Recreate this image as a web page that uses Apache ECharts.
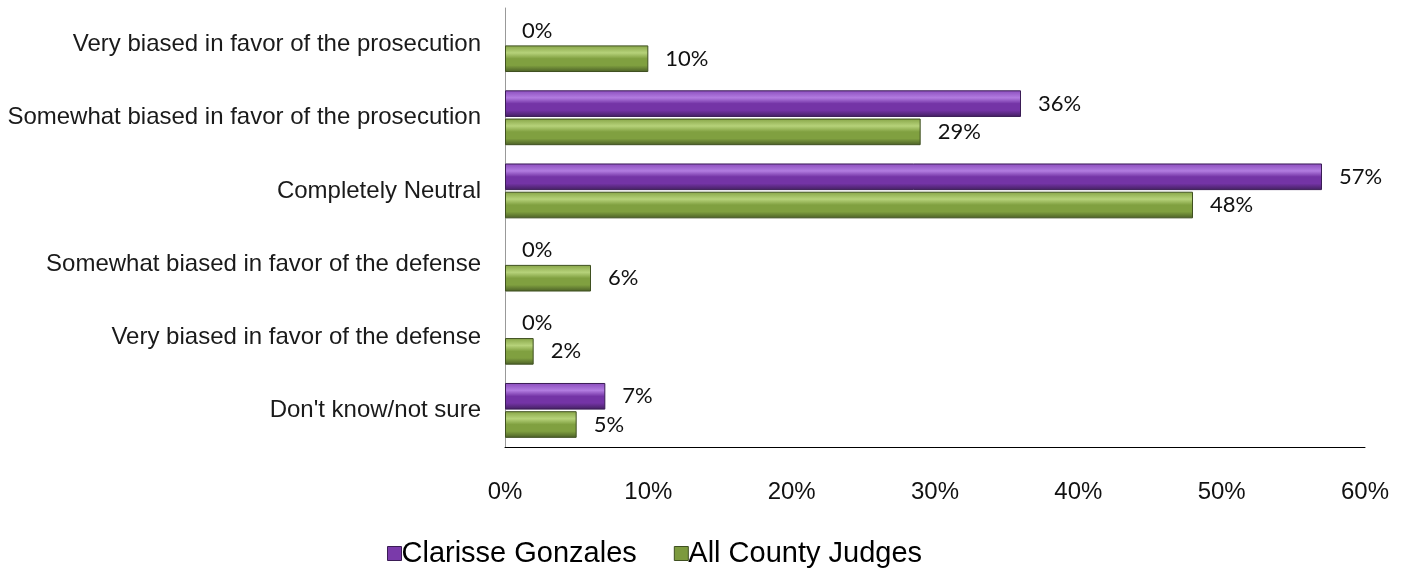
<!DOCTYPE html>
<html>
<head>
<meta charset="utf-8">
<script src="https://cdn.jsdelivr.net/npm/echarts@6/dist/echarts.min.js"></script>
<style>html,body{margin:0;padding:0;background:#fff;}#c{width:1409px;height:573px;}</style>
</head>
<body>
<div id="c"></div>
<script>
const categories = [
  "Very biased in favor of the prosecution",
  "Somewhat biased in favor of the prosecution",
  "Completely Neutral",
  "Somewhat biased in favor of the defense",
  "Very biased in favor of the defense",
  "Don't know/not sure"
];
const seriesNames = ["Clarisse Gonzales", "All County Judges"];
const clarisse = [0, 36, 57, 0, 0, 7];
const allJudges = [10, 29, 48, 6, 2, 5];
const xTicks = [0, 10, 20, 30, 40, 50, 60];

function bevel(top, hi, mid, bottom) {
  return new echarts.graphic.LinearGradient(0, 0, 0, 1, [
    {offset: 0, color: top},
    {offset: 0.28, color: hi},
    {offset: 0.5, color: mid},
    {offset: 0.75, color: mid},
    {offset: 1, color: bottom}
  ]);
}
const purple = bevel('#8a4cbc', '#b27ce0', '#7434a6', '#42205f');
const green = bevel('#86a446', '#b6d27a', '#80a040', '#4a5e26');

function withStyle(values, color, border) {
  return values.map(v => ({
    value: v,
    itemStyle: {color: color, borderColor: border, borderWidth: v === 0 ? 0 : 1}
  }));
}

const chart = echarts.init(document.getElementById('c'));
const labelCfg = {
  show: true, position: 'right', distance: 17,
  formatter: p => p.value + '%',
  color: '#111', fontSize: 22, fontFamily: 'Lato, "Open Sans", sans-serif'
};
chart.setOption({
  animation: false,
  grid: {left: 505, right: 44, top: 8, bottom: 126},
  legend: {
    data: seriesNames.map(n => ({name: n, itemStyle: {color: n === seriesNames[0] ? '#7a3aaa' : '#7c9a3e', borderColor: n === seriesNames[0] ? '#3a1c55' : '#3f5020', borderWidth: 1}})),
    top: 534, left: 382,
    itemWidth: 14, itemHeight: 14, itemGap: 37,
    icon: 'rect',
    textStyle: {fontSize: 29, color: '#000', fontFamily: 'Liberation Sans, Arial, sans-serif', padding: [0, 0, 0, -5]}
  },
  xAxis: {
    type: 'value', min: 0, max: 60, interval: 10,
    axisLine: {show: true, lineStyle: {color: '#000', width: 1}},
    axisTick: {show: false}, splitLine: {show: false},
    axisLabel: {formatter: v => xTicks.includes(v) ? v + '%' : '', margin: 33, fontSize: 24, color: '#111',
      fontFamily: 'Liberation Sans, Arial, sans-serif'}
  },
  yAxis: {
    type: 'category', data: categories, inverse: true,
    axisLine: {show: true, lineStyle: {color: '#999', width: 1}},
    axisTick: {show: false},
    axisLabel: {margin: 24, fontSize: 24, color: '#1a1a1a', fontFamily: 'Liberation Sans, Arial, sans-serif'}
  },
  series: [
    {name: seriesNames[0], type: 'bar', data: withStyle(clarisse, purple, '#3a1c55'), barGap: '6%', barCategoryGap: '25%',
      itemStyle: {color: purple}, label: labelCfg},
    {name: seriesNames[1], type: 'bar', data: withStyle(allJudges, green, '#3f5020'),
      itemStyle: {color: green}, label: labelCfg}
  ]
});
</script>
</body>
</html>
